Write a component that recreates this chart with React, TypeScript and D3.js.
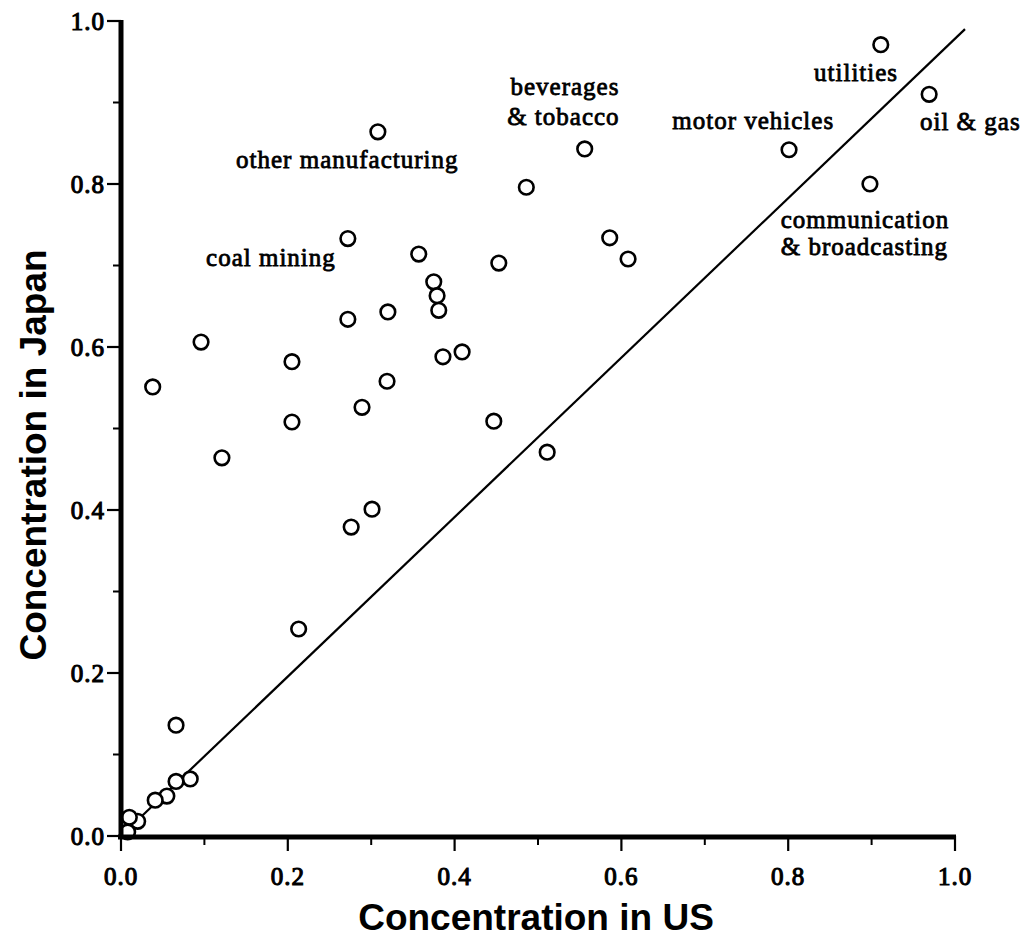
import React from 'react';
import * as d3 from 'd3';

// industry concentration, US vs Japan
const usConc = [
  0.308, 0.911, 0.969, 0.801, 0.898, 0.556, 0.486, 0.586, 0.608, 0.272,
  0.357, 0.453, 0.375, 0.379, 0.381, 0.272, 0.320, 0.386, 0.409, 0.319,
  0.289, 0.447, 0.511, 0.301, 0.276, 0.096, 0.038, 0.205, 0.205, 0.121,
  0.213, 0.066, 0.083, 0.066, 0.055, 0.041, 0.020, 0.010, 0.008,
];
const japanConc = [
  0.864, 0.971, 0.910, 0.842, 0.800, 0.843, 0.796, 0.734, 0.708, 0.733,
  0.714, 0.703, 0.680, 0.663, 0.645, 0.634, 0.643, 0.588, 0.594, 0.558,
  0.526, 0.509, 0.471, 0.401, 0.379, 0.606, 0.551, 0.582, 0.508, 0.464,
  0.254, 0.136, 0.070, 0.067, 0.049, 0.044, 0.018, 0.023, 0.005,
];

// fitted line ends
const lineX = [0, 1.012];
const lineY = [0, 0.99];

const majorTicks = [0, 0.2, 0.4, 0.6, 0.8, 1.0];
const minorTicks = [0.1, 0.3, 0.5, 0.7, 0.9];
const tickLabels = ['0.0', '0.2', '0.4', '0.6', '0.8', '1.0'];

// annotation text, anchored (left, baseline) in data units
const noteText = [
  'other manufacturing', 'coal mining', 'beverages', '& tobacco',
  'motor vehicles', 'utilities', 'oil & gas', 'communication', '& broadcasting',
];
const noteX = [0.138, 0.102, 0.467, 0.463, 0.661, 0.831, 0.958, 0.791, 0.791];
const noteY = [0.820, 0.699, 0.909, 0.873, 0.868, 0.926, 0.866, 0.746, 0.713];

const W = 1027;
const H = 947;

export default function App() {
  const x = d3.scaleLinear().domain([0, 1]).range([121, 955]);
  const y = d3.scaleLinear().domain([0, 1]).range([836, 21]);

  const serif = '"Liberation Serif", "Times New Roman", serif';
  const sans = '"Liberation Sans", Arial, sans-serif';

  const line = d3
    .line<number>()
    .x((d) => x(d))
    .y((_, i) => y(lineY[i]));

  return (
    <svg
      width={W}
      height={H}
      style={{ position: 'absolute', left: 0, top: 0, background: '#fff' }}
    >
      {/* fitted line */}
      <path d={line(lineX) || ''} fill="none" stroke="#000" strokeWidth={2.2} />

      {/* points */}
      {usConc.map((v, i) => (
        <circle
          key={i}
          cx={x(v)}
          cy={y(japanConc[i])}
          r={7.3}
          fill="#fff"
          stroke="#000"
          strokeWidth={2.6}
        />
      ))}

      {/* y axis */}
      <line x1={x(0)} x2={x(0)} y1={y(1) - 1} y2={y(0) + 3} stroke="#000" strokeWidth={5} />
      {majorTicks.map((t) => (
        <line key={'ym' + t} x1={x(0) - 14} x2={x(0)} y1={y(t)} y2={y(t)} stroke="#000" strokeWidth={2.2} />
      ))}
      {minorTicks.map((t) => (
        <line key={'yn' + t} x1={x(0) - 8} x2={x(0)} y1={y(t)} y2={y(t)} stroke="#000" strokeWidth={2} />
      ))}
      {majorTicks.map((t, i) => (
        <text
          key={'yl' + t}
          x={x(0) - 16}
          y={y(t)}
          dy="0.34em"
          textAnchor="end"
          fontFamily={serif}
          fontSize={25}
          letterSpacing={1}
          stroke="#000"
          strokeWidth={1.1}
        >
          {tickLabels[i]}
        </text>
      ))}

      {/* x axis */}
      <line x1={x(0) - 3} x2={x(1) + 1} y1={y(0) + 1} y2={y(0) + 1} stroke="#000" strokeWidth={5} />
      {majorTicks.map((t) => (
        <line key={'xm' + t} x1={x(t)} x2={x(t)} y1={y(0)} y2={y(0) + 15} stroke="#000" strokeWidth={2.2} />
      ))}
      {minorTicks.map((t) => (
        <line key={'xn' + t} x1={x(t)} x2={x(t)} y1={y(0)} y2={y(0) + 9} stroke="#000" strokeWidth={2} />
      ))}
      {majorTicks.map((t, i) => (
        <text
          key={'xl' + t}
          x={x(t)}
          y={y(0) + 49}
          textAnchor="middle"
          fontFamily={serif}
          fontSize={25}
          letterSpacing={1}
          stroke="#000"
          strokeWidth={1.1}
        >
          {tickLabels[i]}
        </text>
      ))}

      {/* annotations */}
      {noteText.map((s, i) => (
        <text
          key={s}
          x={x(noteX[i])}
          y={y(noteY[i])}
          fontFamily={serif}
          fontSize={25}
          letterSpacing={1}
          stroke="#000"
          strokeWidth={0.8}
        >
          {s}
        </text>
      ))}

      {/* axis titles */}
      <text
        x={536}
        y={930}
        textAnchor="middle"
        fontFamily={sans}
        fontWeight="bold"
        fontSize={37}
      >
        Concentration in US
      </text>
      <text
        transform="translate(46, 455) rotate(-90)"
        textAnchor="middle"
        fontFamily={sans}
        fontWeight="bold"
        fontSize={37}
      >
        Concentration in Japan
      </text>
    </svg>
  );
}
